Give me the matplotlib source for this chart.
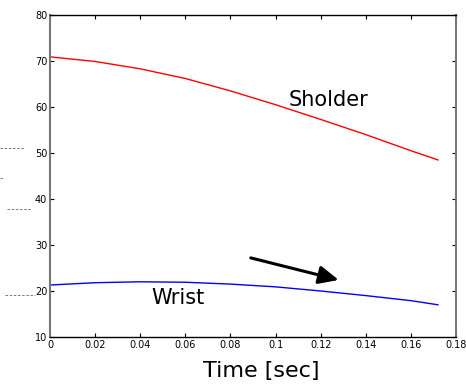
import matplotlib
matplotlib.use("Agg")
import matplotlib.pyplot as plt
from matplotlib.lines import Line2D

time = [0, 0.02, 0.04, 0.06, 0.08, 0.10, 0.12, 0.14, 0.16, 0.172]
shoulder = [70.9, 69.9, 68.3, 66.2, 63.5, 60.5, 57.3, 54.0, 50.5, 48.5]
wrist = [21.3, 21.8, 22.0, 21.9, 21.5, 20.9, 20.0, 19.0, 17.9, 17.0]
xticks = [0, 0.02, 0.04, 0.06, 0.08, 0.1, 0.12, 0.14, 0.16, 0.18]
xticklabels = ["0", "0.02", "0.04", "0.06", "0.08", "0.1", "0.12", "0.14", "0.16", "0.18"]
yticks = [10, 20, 30, 40, 50, 60, 70, 80]

plt.rcParams['font.family'] = ["DejaVu Sans"]

fig = plt.figure(figsize=(4.66, 3.85), dpi=100)
ax = fig.add_axes([0.1073, 0.1247, 0.8712, 0.8363])
ax.plot(time, shoulder, color="red", lw=1)
ax.plot(time, wrist, color="blue", lw=1)
ax.set_xlim(0, 0.18)
ax.set_ylim(10, 80)
ax.set_xticks(xticks)
ax.set_xticklabels(xticklabels)
ax.set_yticks(yticks)
ax.tick_params(direction="in", top=True, right=True, labelsize=7, length=3, pad=2)
for s in ["left", "right"]:
    ax.spines[s].set_color("#777777")
    ax.spines[s].set_linewidth(1.5)
for s in ["top", "bottom"]:
    ax.spines[s].set_color("black")
    ax.spines[s].set_linewidth(1)

ax.text(0.106, 61.5, "Sholder", fontsize=15, va="center", ha="left")
ax.text(0.045, 18.5, "Wrist", fontsize=15, va="center", ha="left")
ax.annotate("", xy=(0.128, 22.4), xytext=(0.089, 27.2),
            arrowprops=dict(arrowstyle="-|>,head_length=1.2,head_width=0.55",
                            color="black", lw=2.2, shrinkA=0, shrinkB=0))
ax.set_xlabel("Time [sec]", fontsize=16)
ax.xaxis.set_label_coords(0.52, -0.075, transform=ax.transAxes)
ax.xaxis.label.set_va("top")

for y0, x0, x1 in [(148, 0, 25), (178, 0, 3), (209, 7, 32), (295, 5, 35)]:
    fig.add_artist(Line2D([x0 / 466, x1 / 466], [1 - y0 / 385, 1 - y0 / 385],
                          color="#666666", lw=0.6, ls=(0, (3, 2))))

fig.savefig("out.png", dpi=100)
